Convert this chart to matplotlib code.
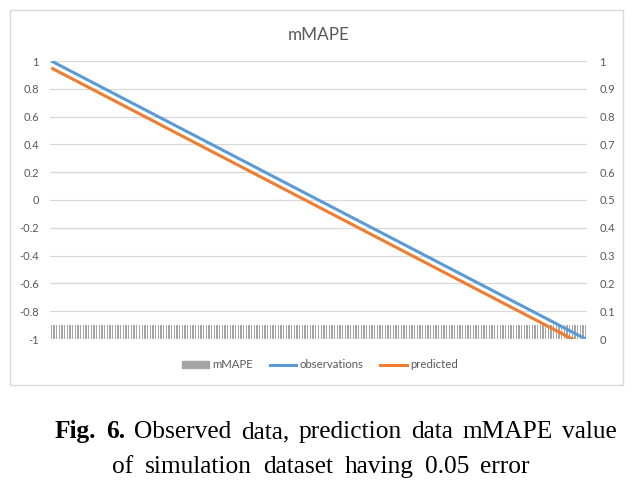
import matplotlib
matplotlib.use("Agg")
import matplotlib.pyplot as plt
from matplotlib.patches import Rectangle
from matplotlib.lines import Line2D
from matplotlib.ticker import FuncFormatter

OBSERVATIONS = [
    1.00,
    0.99, 0.98, 0.97, 0.96, 0.95, 0.94, 0.93, 0.92, 0.91, 0.90,
    0.89, 0.88, 0.87, 0.86, 0.85, 0.84, 0.83, 0.82, 0.81, 0.80,
    0.79, 0.78, 0.77, 0.76, 0.75, 0.74, 0.73, 0.72, 0.71, 0.70,
    0.69, 0.68, 0.67, 0.66, 0.65, 0.64, 0.63, 0.62, 0.61, 0.60,
    0.59, 0.58, 0.57, 0.56, 0.55, 0.54, 0.53, 0.52, 0.51, 0.50,
    0.49, 0.48, 0.47, 0.46, 0.45, 0.44, 0.43, 0.42, 0.41, 0.40,
    0.39, 0.38, 0.37, 0.36, 0.35, 0.34, 0.33, 0.32, 0.31, 0.30,
    0.29, 0.28, 0.27, 0.26, 0.25, 0.24, 0.23, 0.22, 0.21, 0.20,
    0.19, 0.18, 0.17, 0.16, 0.15, 0.14, 0.13, 0.12, 0.11, 0.10,
    0.09, 0.08, 0.07, 0.06, 0.05, 0.04, 0.03, 0.02, 0.01, 0.00,
    -0.01, -0.02, -0.03, -0.04, -0.05, -0.06, -0.07, -0.08, -0.09, -0.10,
    -0.11, -0.12, -0.13, -0.14, -0.15, -0.16, -0.17, -0.18, -0.19, -0.20,
    -0.21, -0.22, -0.23, -0.24, -0.25, -0.26, -0.27, -0.28, -0.29, -0.30,
    -0.31, -0.32, -0.33, -0.34, -0.35, -0.36, -0.37, -0.38, -0.39, -0.40,
    -0.41, -0.42, -0.43, -0.44, -0.45, -0.46, -0.47, -0.48, -0.49, -0.50,
    -0.51, -0.52, -0.53, -0.54, -0.55, -0.56, -0.57, -0.58, -0.59, -0.60,
    -0.61, -0.62, -0.63, -0.64, -0.65, -0.66, -0.67, -0.68, -0.69, -0.70,
    -0.71, -0.72, -0.73, -0.74, -0.75, -0.76, -0.77, -0.78, -0.79, -0.80,
    -0.81, -0.82, -0.83, -0.84, -0.85, -0.86, -0.87, -0.88, -0.89, -0.90,
    -0.91, -0.92, -0.93, -0.94, -0.95, -0.96, -0.97, -0.98, -0.99, -1.00,
]

PREDICTED = [
    0.95,
    0.94, 0.93, 0.92, 0.91, 0.90, 0.89, 0.88, 0.87, 0.86, 0.85,
    0.84, 0.83, 0.82, 0.81, 0.80, 0.79, 0.78, 0.77, 0.76, 0.75,
    0.74, 0.73, 0.72, 0.71, 0.70, 0.69, 0.68, 0.67, 0.66, 0.65,
    0.64, 0.63, 0.62, 0.61, 0.60, 0.59, 0.58, 0.57, 0.56, 0.55,
    0.54, 0.53, 0.52, 0.51, 0.50, 0.49, 0.48, 0.47, 0.46, 0.45,
    0.44, 0.43, 0.42, 0.41, 0.40, 0.39, 0.38, 0.37, 0.36, 0.35,
    0.34, 0.33, 0.32, 0.31, 0.30, 0.29, 0.28, 0.27, 0.26, 0.25,
    0.24, 0.23, 0.22, 0.21, 0.20, 0.19, 0.18, 0.17, 0.16, 0.15,
    0.14, 0.13, 0.12, 0.11, 0.10, 0.09, 0.08, 0.07, 0.06, 0.05,
    0.04, 0.03, 0.02, 0.01, 0.00, -0.01, -0.02, -0.03, -0.04, -0.05,
    -0.06, -0.07, -0.08, -0.09, -0.10, -0.11, -0.12, -0.13, -0.14, -0.15,
    -0.16, -0.17, -0.18, -0.19, -0.20, -0.21, -0.22, -0.23, -0.24, -0.25,
    -0.26, -0.27, -0.28, -0.29, -0.30, -0.31, -0.32, -0.33, -0.34, -0.35,
    -0.36, -0.37, -0.38, -0.39, -0.40, -0.41, -0.42, -0.43, -0.44, -0.45,
    -0.46, -0.47, -0.48, -0.49, -0.50, -0.51, -0.52, -0.53, -0.54, -0.55,
    -0.56, -0.57, -0.58, -0.59, -0.60, -0.61, -0.62, -0.63, -0.64, -0.65,
    -0.66, -0.67, -0.68, -0.69, -0.70, -0.71, -0.72, -0.73, -0.74, -0.75,
    -0.76, -0.77, -0.78, -0.79, -0.80, -0.81, -0.82, -0.83, -0.84, -0.85,
    -0.86, -0.87, -0.88, -0.89, -0.90, -0.91, -0.92, -0.93, -0.94, -0.95,
    -0.96, -0.97, -0.98, -0.99, -1.00, -1.01, -1.02, -1.03, -1.04, -1.05,
]

MMAPE = [
    0.05,
    0.05, 0.05, 0.05, 0.05, 0.05, 0.05, 0.05, 0.05, 0.05, 0.05,
    0.05, 0.05, 0.05, 0.05, 0.05, 0.05, 0.05, 0.05, 0.05, 0.05,
    0.05, 0.05, 0.05, 0.05, 0.05, 0.05, 0.05, 0.05, 0.05, 0.05,
    0.05, 0.05, 0.05, 0.05, 0.05, 0.05, 0.05, 0.05, 0.05, 0.05,
    0.05, 0.05, 0.05, 0.05, 0.05, 0.05, 0.05, 0.05, 0.05, 0.05,
    0.05, 0.05, 0.05, 0.05, 0.05, 0.05, 0.05, 0.05, 0.05, 0.05,
    0.05, 0.05, 0.05, 0.05, 0.05, 0.05, 0.05, 0.05, 0.05, 0.05,
    0.05, 0.05, 0.05, 0.05, 0.05, 0.05, 0.05, 0.05, 0.05, 0.05,
    0.05, 0.05, 0.05, 0.05, 0.05, 0.05, 0.05, 0.05, 0.05, 0.05,
    0.05, 0.05, 0.05, 0.05, 0.05, 0.05, 0.05, 0.05, 0.05, 0.05,
    0.05, 0.05, 0.05, 0.05, 0.05, 0.05, 0.05, 0.05, 0.05, 0.05,
    0.05, 0.05, 0.05, 0.05, 0.05, 0.05, 0.05, 0.05, 0.05, 0.05,
    0.05, 0.05, 0.05, 0.05, 0.05, 0.05, 0.05, 0.05, 0.05, 0.05,
    0.05, 0.05, 0.05, 0.05, 0.05, 0.05, 0.05, 0.05, 0.05, 0.05,
    0.05, 0.05, 0.05, 0.05, 0.05, 0.05, 0.05, 0.05, 0.05, 0.05,
    0.05, 0.05, 0.05, 0.05, 0.05, 0.05, 0.05, 0.05, 0.05, 0.05,
    0.05, 0.05, 0.05, 0.05, 0.05, 0.05, 0.05, 0.05, 0.05, 0.05,
    0.05, 0.05, 0.05, 0.05, 0.05, 0.05, 0.05, 0.05, 0.05, 0.05,
    0.05, 0.05, 0.05, 0.05, 0.05, 0.05, 0.05, 0.05, 0.05, 0.05,
    0.05, 0.05, 0.05, 0.05, 0.05, 0.05, 0.05, 0.05, 0.05, 0.05,
]

LEFT_TICKS = [-1, -0.8, -0.6, -0.4, -0.2, 0, 0.2, 0.4, 0.6, 0.8, 1]
RIGHT_TICKS = [0, 0.1, 0.2, 0.3, 0.4, 0.5, 0.6, 0.7, 0.8, 0.9, 1]

CAPTION_LINE1 = ["Fig.", "6.", "Observed", "data,", "prediction", "data", "mMAPE", "value"]
CAPTION_LINE2 = ["of", "simulation", "dataset", "having", "0.05", "error"]

BLUE = "#5b9bd5"
ORANGE = "#ed7d31"
GRAY = "#a5a5a5"
TEXT = "#595959"
GRID = "#d9d9d9"

W, H = 634, 480
plt.rcParams["font.family"] = ["Lato", "DejaVu Sans"]


def fmt(v, _pos=None):
    s = f"{v:.1f}".rstrip("0").rstrip(".")
    return "0" if s in ("-0", "0") else s


def justify(fig, words, x0, x1, y, bold_count=0):
    """Lay out words between pixel x0 and x1 like justified print text."""
    renderer = fig.canvas.get_renderer()
    texts = []
    for i, w in enumerate(words):
        t = fig.text(0, 1 - y / H, w, fontsize=18.3, family="Liberation Serif",
                     weight="bold" if i < bold_count else "normal",
                     va="baseline", ha="left", color="black")
        texts.append(t)
    widths = [t.get_window_extent(renderer).width for t in texts]
    gap = (x1 - x0 - sum(widths)) / (len(words) - 1)
    x = x0
    for t, wd in zip(texts, widths):
        t.set_x(x / W)
        x += wd + gap


fig = plt.figure(figsize=(W / 100, H / 100), dpi=100)
fig.patch.set_facecolor("white")
fig.patches.append(Rectangle((10 / W, 1 - 385 / H), 613 / W, 375 / H,
                             transform=fig.transFigure, fill=False,
                             edgecolor=GRID, linewidth=1))

ax = fig.add_axes([50 / W, 1 - 339 / H, 537 / W, 278 / H])
ax2 = ax.twinx()

x = list(range(len(OBSERVATIONS)))
ax2.bar(x, MMAPE, width=0.5, color=GRAY, linewidth=0, label="mMAPE")
ax.plot(x, OBSERVATIONS, color=BLUE, linewidth=2.2, label="observations",
        solid_capstyle="butt")
ax.plot(x, PREDICTED, color=ORANGE, linewidth=2.2, label="predicted",
        solid_capstyle="butt")

ax.set_zorder(ax2.get_zorder() + 1)
ax.patch.set_visible(False)

ax.set_xlim(-0.5, len(x) - 0.5)
ax.set_ylim(-1, 1)
ax2.set_ylim(0, 1)
ax.set_yticks(LEFT_TICKS)
ax2.set_yticks(RIGHT_TICKS)
ax.yaxis.set_major_formatter(FuncFormatter(fmt))
ax2.yaxis.set_major_formatter(FuncFormatter(fmt))
ax.set_xticks([])
ax.grid(axis="y", color=GRID, linewidth=0.9)
ax.set_axisbelow(True)
for a in (ax, ax2):
    for s in a.spines.values():
        s.set_visible(False)
ax.tick_params(axis="y", length=0, pad=8, labelsize=8, labelcolor=TEXT)
ax2.tick_params(axis="y", length=0, pad=9, labelsize=8, labelcolor=TEXT)

fig.text(319 / W, 1 - 35 / H, "mMAPE", ha="center", va="center",
         fontsize=12.3, color=TEXT)

handles = [
    Rectangle((0, 0), 1, 1, color=GRAY),
    Line2D([], [], color=BLUE, linewidth=2.2),
    Line2D([], [], color=ORANGE, linewidth=2.2),
]
fig.legend(handles, ["mMAPE", "observations", "predicted"],
           loc="center", bbox_to_anchor=(320 / W, 1 - 365 / H), ncol=3,
           frameon=False, fontsize=8.2, labelcolor=TEXT, handlelength=2.3,
           handleheight=0.5, handletextpad=0.3, columnspacing=1.5)

fig.canvas.draw()
justify(fig, CAPTION_LINE1, 55, 617, 438, bold_count=2)
justify(fig, CAPTION_LINE2, 112, 530, 473)

fig.savefig("out.png", dpi=100)
